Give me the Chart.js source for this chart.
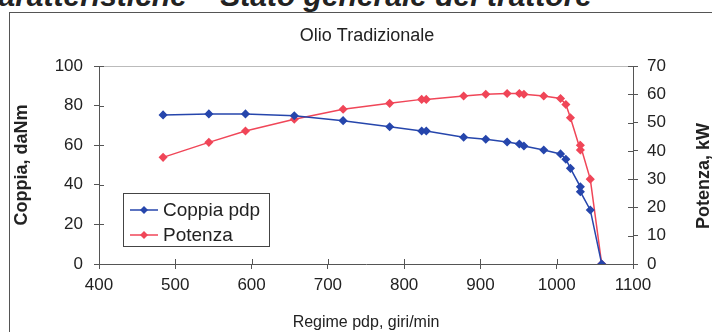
<!DOCTYPE html>
<html>
<head>
<meta charset="utf-8">
<script src="https://cdn.jsdelivr.net/npm/chart.js@4/dist/chart.umd.min.js"></script>
<style>
    body { margin: 0; background: #fff; width: 712px; height: 332px; overflow: hidden; position: relative; font-family: "Liberation Sans", Arial, sans-serif; }
    #heading { position: absolute; right: 120px; top: -19px; font: italic bold 30px/30px "Liberation Sans", Arial, sans-serif; color: #222; white-space: nowrap; }
    #frame { position: absolute; left: 9px; top: 12px; width: 720px; height: 340px; border: 1px solid #555; }
    #wrap { position: absolute; left: 0; top: 0; width: 712px; height: 332px; }
</style>
</head>
<body>
<div id="heading">Caratteristiche – Stato generale del trattore</div>
<div id="frame"></div>
<div id="wrap"><canvas id="chart"></canvas></div>
<script>
// regime pdp (giri/min)
const rpm = [484, 544, 592, 656, 720, 781, 823, 829, 878, 907, 935, 951, 957, 983, 1005, 1012, 1018, 1031, 1031, 1044, 1059];
// coppia pdp (daNm)
const coppia = [75.3, 75.8, 75.8, 74.9, 72.4, 69.3, 67.2, 67.2, 64.0, 63.0, 61.6, 60.6, 59.6, 57.6, 55.6, 52.9, 48.3, 39.0, 36.5, 27.3, 0];
// potenza (kW)
const potenza = [37.7, 43.0, 47.0, 51.2, 54.7, 56.8, 58.2, 58.2, 59.4, 60.0, 60.3, 60.3, 60.0, 59.4, 58.5, 56.4, 51.7, 40.3, 42.0, 30.0, 0];

const seriesNames = ['Coppia pdp', 'Potenza'];
const chartTitle = 'Olio Tradizionale';
const xTitle = 'Regime pdp, giri/min';
const yLeftTitle = 'Coppia, daNm';
const yRightTitle = 'Potenza, kW';

const blue = '#2646ac';
const red = '#f04658';
const axisColor = '#555';
const textColor = '#222';
const fontFamily = '"Liberation Sans", Arial, sans-serif';

// tick marks crossing the axis line, light top border, title and right axis title
const extras = {
    id: 'extras',
    afterDraw(chart) {
        const ctx = chart.ctx;
        const area = chart.chartArea;
        const { x, y, y2 } = chart.scales;
        ctx.save();
        ctx.strokeStyle = '#bbb';
        ctx.lineWidth = 1;
        ctx.beginPath();
        ctx.moveTo(area.left, area.top + 0.5);
        ctx.lineTo(area.right, area.top + 0.5);
        ctx.stroke();
        ctx.strokeStyle = axisColor;
        ctx.beginPath();
        x.ticks.forEach(t => {
            const px = Math.round(x.getPixelForValue(t.value)) + 0.5;
            ctx.moveTo(px, area.bottom);
            ctx.lineTo(px, area.bottom - 5);
        });
        y.ticks.forEach(t => {
            const py = Math.round(y.getPixelForValue(t.value)) + 0.5;
            ctx.moveTo(area.left, py);
            ctx.lineTo(area.left + 5, py);
        });
        y2.ticks.forEach(t => {
            const py = Math.round(y2.getPixelForValue(t.value)) + 0.5;
            ctx.moveTo(area.right, py);
            ctx.lineTo(area.right - 5, py);
        });
        ctx.stroke();

        ctx.fillStyle = textColor;
        ctx.textAlign = 'center';
        ctx.textBaseline = 'middle';
        ctx.font = '18px ' + fontFamily;
        ctx.fillText(chartTitle, 367, 36);

        ctx.translate(704, 176);
        ctx.rotate(-Math.PI / 2);
        ctx.font = 'bold 18px ' + fontFamily;
        ctx.fillText(yRightTitle, 0, 0);
        ctx.restore();
    }
};

// boxed legend inside the plot
const boxLegend = {
    id: 'boxLegend',
    afterDraw(chart) {
        const ctx = chart.ctx;
        const bx = 123, by = 193, bw = 146, bh = 53;
        ctx.save();
        ctx.fillStyle = '#fff';
        ctx.fillRect(bx, by, bw, bh);
        ctx.strokeStyle = '#444';
        ctx.lineWidth = 1;
        ctx.strokeRect(bx + 0.5, by + 0.5, bw, bh);
        ctx.font = '19px ' + fontFamily;
        ctx.textBaseline = 'middle';
        chart.data.datasets.forEach((ds, i) => {
            const ly = by + 17 + i * 25;
            ctx.strokeStyle = ds.borderColor;
            ctx.lineWidth = 1.5;
            ctx.beginPath();
            ctx.moveTo(bx + 7, ly);
            ctx.lineTo(bx + 35, ly);
            ctx.stroke();
            ctx.fillStyle = ds.borderColor;
            ctx.beginPath();
            ctx.moveTo(bx + 21, ly - 4);
            ctx.lineTo(bx + 25, ly);
            ctx.lineTo(bx + 21, ly + 4);
            ctx.lineTo(bx + 17, ly);
            ctx.closePath();
            ctx.fill();
            ctx.fillStyle = textColor;
            ctx.fillText(ds.label, bx + 40, ly + 1);
        });
        ctx.restore();
    }
};

const tickFont = { family: fontFamily, size: 17 };

new Chart(document.getElementById('chart'), {
    type: 'line',
    data: {
        datasets: [
            {
                label: seriesNames[0],
                data: rpm.map((r, i) => ({ x: r, y: coppia[i] })),
                borderColor: blue, backgroundColor: blue,
                borderWidth: 1.5, pointStyle: 'rectRot', pointRadius: 3.5,
                tension: 0, yAxisID: 'y'
            },
            {
                label: seriesNames[1],
                data: rpm.map((r, i) => ({ x: r, y: potenza[i] })),
                borderColor: red, backgroundColor: red,
                borderWidth: 1.5, pointStyle: 'rectRot', pointRadius: 3.5,
                tension: 0, yAxisID: 'y2'
            }
        ]
    },
    options: {
        responsive: true,
        maintainAspectRatio: false,
        animation: false,
        layout: { padding: { top: 66, left: 0, right: 0, bottom: 0 } },
        plugins: {
            legend: { display: false },
            tooltip: { enabled: false },
            title: { display: false }
        },
        scales: {
            x: {
                type: 'linear', min: 400, max: 1100,
                afterFit: s => { s.height = 68; },
                ticks: { stepSize: 100, color: textColor, font: tickFont, padding: 6, callback: v => String(v) },
                grid: { drawOnChartArea: false, tickLength: 5, color: axisColor },
                border: { color: axisColor },
                title: { display: true, text: xTitle, color: textColor, font: { family: fontFamily, size: 16 }, padding: { top: 0, bottom: 0 } }
            },
            y: {
                position: 'left', min: 0, max: 100,
                afterFit: s => { s.width = 99; },
                ticks: { stepSize: 20, color: textColor, font: tickFont, padding: 11 },
                grid: { drawOnChartArea: false, tickLength: 5, color: axisColor },
                border: { color: axisColor },
                title: { display: true, text: yLeftTitle, color: textColor, font: { family: fontFamily, size: 18, weight: 'bold' }, padding: { top: 11, bottom: 0 } }
            },
            y2: {
                position: 'right', min: 0, max: 70,
                afterFit: s => { s.width = 79; },
                ticks: { stepSize: 10, color: textColor, font: tickFont, padding: 9 },
                grid: { drawOnChartArea: false, tickLength: 5, color: axisColor },
                border: { color: axisColor },
                title: { display: false }
            }
        }
    },
    plugins: [extras, boxLegend]
});
</script>
</body>
</html>
